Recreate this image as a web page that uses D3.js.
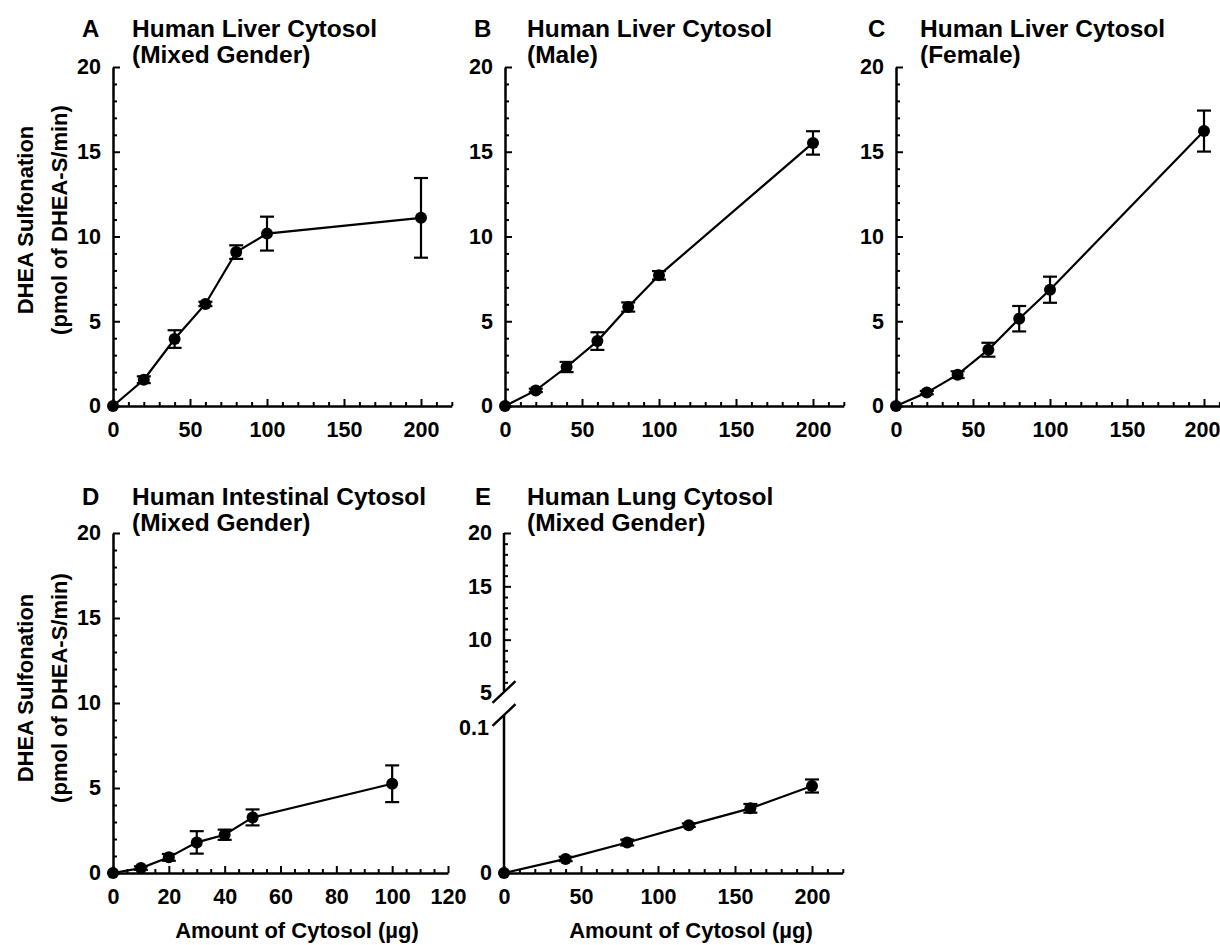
<!DOCTYPE html>
<html>
<head>
<meta charset="utf-8">
<script src="https://cdn.jsdelivr.net/npm/d3@7"></script>
<style>
  body { margin: 0; background: #fff; }
  svg { display: block; }
</style>
</head>
<body>
<script>
// ---------------- data ----------------
var xLiver = [0, 20, 40, 60, 80, 100, 200];

var yA   = [0, 1.55, 3.95, 6.02, 9.08, 10.17, 11.1];
var errA = [0, 0.2, 0.52, 0.13, 0.4, 1.0, 2.35];

var yB   = [0, 0.92, 2.3, 3.83, 5.84, 7.71, 15.52];
var errB = [0, 0.1, 0.3, 0.52, 0.27, 0.25, 0.69];

var yC   = [0, 0.79, 1.85, 3.32, 5.15, 6.86, 16.22];
var errC = [0, 0.1, 0.2, 0.41, 0.75, 0.77, 1.21];

var xIntestine = [0, 10, 20, 30, 40, 50, 100];
var yD   = [0, 0.29, 0.92, 1.8, 2.25, 3.27, 5.25];
var errD = [0, 0.1, 0.2, 0.66, 0.3, 0.47, 1.08];

var xLung = [0, 40, 80, 120, 160, 200];
var yE   = [0, 0.0097, 0.021, 0.033, 0.0446, 0.060];
var errE = [0, 0.0015, 0.002, 0.0012, 0.003, 0.0045];

var yTicksMajor = [0, 5, 10, 15, 20];
var yTicksMinor = d3.range(1, 20).filter(function(d){ return d % 5 != 0; });
var xTicks200 = [0, 50, 100, 150, 200];
var xMinor200 = d3.range(10, 221, 10).filter(function(d){ return d % 50 != 0; });
var xTicks120 = [0, 20, 40, 60, 80, 100, 120];
var xMinor120 = d3.range(5, 121, 5).filter(function(d){ return d % 20 != 0; });
var eUpperTicks = [5, 10, 15, 20];
var eUpperMinor = d3.range(6, 20).filter(function(d){ return d % 5 != 0; });
var eLowerTicks = [0, 0.1];

var yTitle1 = "DHEA Sulfonation";
var yTitle2 = "(pmol of DHEA-S/min)";
var xTitle = "Amount of Cytosol (\u00b5g)";

var FONT = "'Liberation Sans', Arial, Helvetica, sans-serif";
var TICK_SIZE = 21.5;

var svg = d3.select("body").append("svg")
    .attr("width", 1220)
    .attr("height", 945)
    .style("font-family", FONT)
    .style("font-weight", "bold");

//******************************************************************************
//****************************** helpers ***************************************

function styleAxis(g, size) {
  g.attr("font-family", FONT).attr("font-size", size).attr("font-weight", "bold");
  g.select(".domain").attr("stroke-width", 2.5);
  g.selectAll(".tick line").attr("stroke-width", 2);
  g.selectAll(".tick text")
      .attr("fill", "#000")
      .style("font-size", size + "px")
      .style("font-weight", "bold")
      .style("font-family", FONT);
}

function drawX(x, yPix, major, minor) {
  var gMinor = svg.append("g")
      .attr("transform", "translate(0," + yPix + ")")
      .call(d3.axisBottom(x).tickValues(minor).tickSizeInner(-4).tickSizeOuter(0).tickFormat(""));
  gMinor.select(".domain").remove();
  gMinor.selectAll(".tick line").attr("stroke-width", 2);
  var g = svg.append("g")
      .attr("transform", "translate(0," + yPix + ")")
      .call(d3.axisBottom(x).tickValues(major).tickSizeInner(-7).tickSizeOuter(0).tickPadding(16));
  styleAxis(g, TICK_SIZE);
  return g;
}

function drawY(y, xPix, major, minor) {
  var gMinor = svg.append("g")
      .attr("transform", "translate(" + xPix + ",0)")
      .call(d3.axisLeft(y).tickValues(minor).tickSizeInner(-4).tickSizeOuter(0).tickFormat(""));
  gMinor.select(".domain").remove();
  gMinor.selectAll(".tick line").attr("stroke-width", 2);
  var g = svg.append("g")
      .attr("transform", "translate(" + xPix + ",0)")
      .call(d3.axisLeft(y).tickValues(major).tickSizeInner(-7).tickSizeOuter(0).tickPadding(12));
  styleAxis(g, TICK_SIZE);
  return g;
}

function drawSeries(x, y, xs, ys, errs) {
  var pts = xs.map(function(d, i){ return {x: d, y: ys[i], e: errs[i]}; });
  var line = d3.line().x(function(d){ return x(d.x); }).y(function(d){ return y(d.y); });
  svg.append("path")
      .datum(pts)
      .attr("d", line)
      .attr("fill", "none")
      .attr("stroke", "#000")
      .attr("stroke-width", 2.2);
  var bars = svg.append("g").selectAll("g")
      .data(pts.filter(function(d){ return d.e > 0; }))
      .enter().append("g")
        .attr("stroke", "#000")
        .attr("stroke-width", 2.2);
  bars.append("line")
      .attr("x1", function(d){ return x(d.x); })
      .attr("x2", function(d){ return x(d.x); })
      .attr("y1", function(d){ return y(d.y - d.e); })
      .attr("y2", function(d){ return y(d.y + d.e); });
  bars.append("line")
      .attr("x1", function(d){ return x(d.x) - 7; })
      .attr("x2", function(d){ return x(d.x) + 7; })
      .attr("y1", function(d){ return y(d.y + d.e); })
      .attr("y2", function(d){ return y(d.y + d.e); });
  bars.append("line")
      .attr("x1", function(d){ return x(d.x) - 7; })
      .attr("x2", function(d){ return x(d.x) + 7; })
      .attr("y1", function(d){ return y(d.y - d.e); })
      .attr("y2", function(d){ return y(d.y - d.e); });
  svg.append("g").selectAll("circle")
      .data(pts)
      .enter().append("circle")
        .attr("cx", function(d){ return x(d.x); })
        .attr("cy", function(d){ return y(d.y); })
        .attr("r", 6)
        .attr("fill", "#000");
}

function drawTitle(letter, lx, tx, base, line1, line2) {
  svg.append("text").attr("x", lx).attr("y", base).attr("font-size", 24).text(letter);
  svg.append("text").attr("x", tx).attr("y", base).attr("font-size", 24.5).text(line1);
  svg.append("text").attr("x", tx).attr("y", base + 26).attr("font-size", 24.5).text(line2);
}

function drawYTitle(cy) {
  svg.append("text")
      .attr("transform", "translate(33," + cy + ") rotate(-90)")
      .attr("text-anchor", "middle")
      .attr("font-size", 22)
      .text(yTitle1);
  svg.append("text")
      .attr("transform", "translate(67," + cy + ") rotate(-90)")
      .attr("text-anchor", "middle")
      .attr("font-size", 22)
      .text(yTitle2);
}

function drawXTitle(cx) {
  svg.append("text")
      .attr("x", cx)
      .attr("y", 938)
      .attr("text-anchor", "middle")
      .attr("font-size", 22)
      .text(xTitle);
}

//******************************************************************************
//****************************** top row (A, B, C) *****************************

var topY = d3.scaleLinear().domain([0, 20]).range([406, 67]);
var topPanels = [
  {letter: "A", left: 113, lx: 82,  tx: 132, sub: "(Mixed Gender)", ys: yA, errs: errA},
  {letter: "B", left: 505, lx: 474, tx: 527, sub: "(Male)",         ys: yB, errs: errB},
  {letter: "C", left: 896, lx: 868, tx: 920, sub: "(Female)",       ys: yC, errs: errC}
];

topPanels.forEach(function(p) {
  var x = d3.scaleLinear().domain([0, 220]).range([p.left, p.left + 338.8]);
  var gx = drawX(x, 406, xTicks200, xMinor200);
  // panel C runs off the page edge: keep its last label inside
  if (p.letter == "C") {
    gx.selectAll(".tick").filter(function(d){ return d == 200; }).select("text").attr("x", -2);
  }
  drawY(topY, p.left, yTicksMajor, yTicksMinor);
  drawSeries(x, topY, xLiver, p.ys, p.errs);
  drawTitle(p.letter, p.lx, p.tx, 37, "Human Liver Cytosol", p.sub);
});
drawYTitle(220);

//******************************************************************************
//****************************** D: intestine **********************************

var xD = d3.scaleLinear().domain([0, 120]).range([113, 448]);
var yDs = d3.scaleLinear().domain([0, 20]).range([873, 533]);
drawX(xD, 873, xTicks120, xMinor120);
drawY(yDs, 113, yTicksMajor, yTicksMinor);
drawSeries(xD, yDs, xIntestine, yD, errD);
drawTitle("D", 82, 132, 505, "Human Intestinal Cytosol", "(Mixed Gender)");
drawYTitle(688);
drawXTitle(297);

//******************************************************************************
//****************************** E: lung (broken axis) **************************

var xE = d3.scaleLinear().domain([0, 220]).range([504, 504 + 338.8]);
var yUp = d3.scaleLinear().domain([5, 20]).range([693, 533]);
var yLow = d3.scaleLinear().domain([0, 0.1]).range([873, 728]);

drawX(xE, 873, xTicks200, xMinor200);

// upper segment
var gUp = drawY(yUp, 504, eUpperTicks, eUpperMinor);
gUp.selectAll(".tick").filter(function(d){ return d == 5; }).select("line").remove();
gUp.select(".domain").attr("d", "M0," + yUp(20) + "V" + (yUp(5) - 2));

// lower segment
var gLow = svg.append("g")
    .attr("transform", "translate(504,0)")
    .call(d3.axisLeft(yLow).tickValues(eLowerTicks).tickSize(0).tickPadding(15)
      .tickFormat(function(d){ return d == 0 ? "0" : "0.1"; }));
styleAxis(gLow, TICK_SIZE);
gLow.selectAll(".tick").filter(function(d){ return d == 0; }).select("text").attr("x", -12);
gLow.select(".domain").attr("d", "M0," + (yLow(0.1) - 13) + "V" + yLow(0));

// break marks
[yUp(5) - 1, yLow(0.1) - 13].forEach(function(cy) {
  svg.append("line")
      .attr("x1", 504 - 11.5).attr("y1", cy + 10.8)
      .attr("x2", 504 + 11.5).attr("y2", cy - 10.8)
      .attr("stroke", "#000")
      .attr("stroke-width", 2.5);
});

drawSeries(xE, yLow, xLung, yE, errE);
drawTitle("E", 475, 527, 505, "Human Lung Cytosol", "(Mixed Gender)");
drawXTitle(691);
</script>
</body>
</html>
